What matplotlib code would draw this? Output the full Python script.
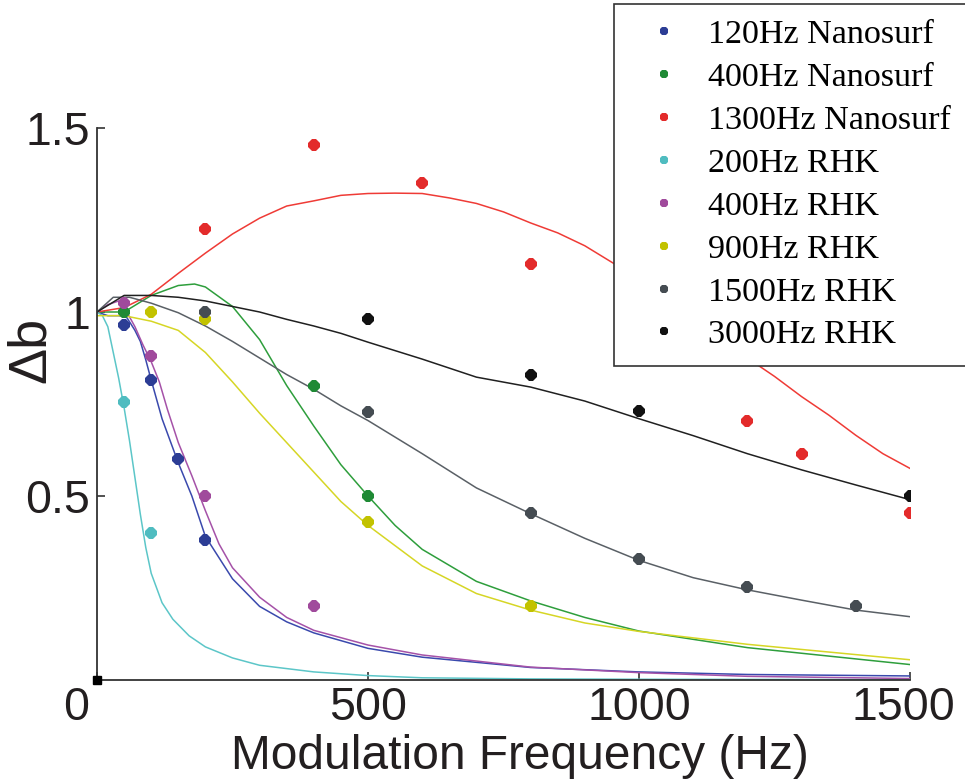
import matplotlib
matplotlib.use('Agg')
import matplotlib.pyplot as plt
import matplotlib.transforms as mtransforms

# measured points: modulation frequency (Hz) and delta b
f_120n = [50, 100, 150, 200]
b_120n = [0.965, 0.815, 0.60, 0.38]
f_400n = [50, 400, 500]
b_400n = [1.0, 0.80, 0.50]
f_1300n = [200, 400, 600, 800, 1200, 1300, 1500]
b_1300n = [1.225, 1.455, 1.35, 1.13, 0.705, 0.615, 0.455]
f_200r = [50, 100]
b_200r = [0.755, 0.40]
f_400r = [50, 100, 200, 400]
b_400r = [1.025, 0.88, 0.50, 0.20]
f_900r = [100, 200, 500, 800]
b_900r = [1.0, 0.98, 0.43, 0.20]
f_1500r = [200, 500, 800, 1000, 1200, 1400]
b_1500r = [1.0, 0.727, 0.455, 0.328, 0.253, 0.202]
f_3000r = [500, 800, 1000, 1500]
b_3000r = [0.98, 0.83, 0.73, 0.50]

# fitted curves
fit_f_120n = [0, 20, 40, 55, 70, 80, 90, 100, 120, 150, 175, 200, 250, 300, 350, 400, 500, 600, 800, 1000, 1200, 1500]
fit_b_120n = [1.0, 0.99, 0.99, 0.985, 0.95, 0.92, 0.87, 0.815, 0.71, 0.59, 0.50, 0.39, 0.275, 0.20, 0.158, 0.128,
              0.086, 0.062, 0.034, 0.022, 0.015, 0.011]
fit_f_400n = [0, 50, 100, 150, 180, 200, 250, 300, 350, 400, 450, 500, 550, 600, 700, 800, 900, 1000, 1200, 1500]
fit_b_400n = [1.0, 1.0, 1.045, 1.072, 1.076, 1.068, 1.015, 0.925, 0.80, 0.69, 0.585, 0.50, 0.42, 0.355, 0.268,
              0.215, 0.17, 0.133, 0.088, 0.042]
fit_f_1300n = [0, 50, 100, 150, 200, 250, 300, 350, 400, 450, 500, 550, 600, 650, 700, 750, 800, 850, 900, 950,
               1000, 1100, 1200, 1250, 1300, 1350, 1400, 1450, 1500]
fit_b_1300n = [1.0, 1.012, 1.048, 1.105, 1.16, 1.212, 1.255, 1.288, 1.302, 1.317, 1.322, 1.323, 1.322, 1.31,
               1.295, 1.272, 1.242, 1.215, 1.18, 1.135, 1.09, 0.98, 0.875, 0.825, 0.77, 0.72, 0.665, 0.615, 0.575]
fit_f_200r = [0, 10, 20, 30, 40, 50, 60, 70, 80, 90, 100, 120, 140, 170, 200, 250, 300, 400, 500, 600, 800, 1000,
              1500]
fit_b_200r = [1.0, 0.99, 0.96, 0.89, 0.82, 0.74, 0.65, 0.55, 0.45, 0.36, 0.29, 0.21, 0.165, 0.12, 0.09, 0.06,
              0.04, 0.022, 0.012, 0.006, 0.003, 0.002, 0.001]
fit_f_400r = [0, 20, 40, 55, 70, 85, 100, 115, 130, 150, 175, 200, 225, 250, 300, 350, 400, 500, 600, 800, 1000,
              1200, 1500]
fit_b_400r = [1.0, 1.02, 1.03, 1.0, 0.96, 0.91, 0.865, 0.81, 0.735, 0.645, 0.555, 0.46, 0.37, 0.305, 0.225, 0.17,
              0.135, 0.095, 0.068, 0.035, 0.02, 0.01, 0.004]
fit_f_900r = [0, 50, 100, 150, 200, 250, 300, 350, 400, 450, 500, 550, 600, 700, 800, 900, 1000, 1200, 1500]
fit_b_900r = [0.99, 0.99, 0.975, 0.95, 0.89, 0.81, 0.725, 0.645, 0.565, 0.485, 0.42, 0.365, 0.31, 0.235, 0.19,
              0.155, 0.132, 0.097, 0.055]
fit_f_1500r = [0, 30, 60, 100, 150, 200, 250, 300, 350, 400, 450, 500, 550, 600, 700, 800, 900, 1000, 1100, 1200,
               1300, 1400, 1500]
fit_b_1500r = [1.0, 1.04, 1.04, 1.024, 0.998, 0.962, 0.92, 0.875, 0.83, 0.79, 0.745, 0.705, 0.66, 0.615, 0.522,
               0.452, 0.385, 0.325, 0.278, 0.245, 0.217, 0.19, 0.172]
fit_f_3000r = [0, 50, 100, 150, 200, 250, 300, 350, 400, 450, 500, 600, 700, 800, 900, 1000, 1100, 1200, 1300,
               1400, 1500]
fit_b_3000r = [1.0, 1.045, 1.045, 1.04, 1.03, 1.015, 1.0, 0.98, 0.962, 0.942, 0.918, 0.872, 0.823, 0.796, 0.758,
               0.71, 0.664, 0.615, 0.571, 0.53, 0.49]

labels = ['120Hz Nanosurf', '400Hz Nanosurf', '1300Hz Nanosurf', '200Hz RHK', '400Hz RHK', '900Hz RHK',
          '1500Hz RHK', '3000Hz RHK']
marker_colors = ['#2c3d95', '#1f8a35', '#e32b2b', '#4fbcc0', '#a04a9c', '#c2c200', '#454c52', '#111111']
line_colors = ['#3a49ad', '#2e9e3c', '#ef3b36', '#5cc6c8', '#a552a8', '#d6d625', '#5a6066', '#202020']

points = [(f_120n, b_120n), (f_400n, b_400n), (f_1300n, b_1300n), (f_200r, b_200r), (f_400r, b_400r),
          (f_900r, b_900r), (f_1500r, b_1500r), (f_3000r, b_3000r)]
fits = [(fit_f_120n, fit_b_120n), (fit_f_400n, fit_b_400n), (fit_f_1300n, fit_b_1300n), (fit_f_200r, fit_b_200r),
        (fit_f_400r, fit_b_400r), (fit_f_900r, fit_b_900r), (fit_f_1500r, fit_b_1500r), (fit_f_3000r, fit_b_3000r)]

fig = plt.figure(figsize=(9.65, 7.82), dpi=100)
ax = fig.add_axes([97 / 965, 1 - 680 / 782, 813 / 965, 552 / 782])

# fit lines first, points on top
for (xf, yf), c in zip(fits, line_colors):
    ax.plot(xf, yf, color=c, lw=1.1, zorder=2)
for (xp, yp), c, lab in zip(points, marker_colors, labels):
    ax.plot(xp, yp, linestyle='none', marker='8', markersize=9, color=c, markeredgewidth=0, label=lab,
            zorder=3)
ax.plot([0], [0], marker='s', markersize=6, color='black', linestyle='none', clip_on=False, zorder=4)

ax.set_xlim(0, 1500)
ax.set_ylim(0, 1.5)
ax.spines['top'].set_visible(False)
ax.spines['right'].set_visible(False)
for s in ['left', 'bottom']:
    ax.spines[s].set_color('#333333')
    ax.spines[s].set_linewidth(1.3)

ax.set_xticks([0, 500, 1000, 1500])
ax.set_xticklabels(['0', '500', '1000', '1500'])
ax.set_yticks([0.5, 1, 1.5])
ax.set_yticklabels(['0.5', '1', '1.5'])
ax.tick_params(direction='in', length=6, width=1.2, color='#333333', labelsize=33.5,
               labelcolor='#231f20')
ax.tick_params(axis='x', pad=4.5)
ax.tick_params(axis='y', pad=5)
for t in ax.get_xticklabels() + ax.get_yticklabels():
    t.set_fontfamily('Liberation Sans')

# the zero label sits a bit left of the corner
zero = ax.get_xticklabels()[0]
zero.set_transform(zero.get_transform() + mtransforms.ScaledTranslation(-21 / 100, 0, fig.dpi_scale_trans))
last = ax.get_xticklabels()[-1]
last.set_transform(last.get_transform() + mtransforms.ScaledTranslation(-7 / 100, 0, fig.dpi_scale_trans))

ax.set_xlabel('Modulation Frequency (Hz)', fontsize=34.5, family='Liberation Sans', color='#231f20')
ax.xaxis.set_label_coords(0.52, -0.098)
ax.set_ylabel('Δb', fontsize=39, family='Liberation Sans', color='#231f20')
ax.yaxis.set_label_coords(-0.05, 0.598)

# legend box runs off the right edge of the figure
leg = ax.legend(loc='upper left', bbox_to_anchor=(614 / 965, 1 - 4 / 782), bbox_transform=fig.transFigure,
                prop={'family': 'Liberation Serif', 'size': 24.6}, markerscale=0.75, frameon=True,
                fancybox=False, framealpha=1, borderpad=0.45, handlelength=2.0, handletextpad=0.3,
                labelspacing=0.35, borderaxespad=0)
leg.get_frame().set_edgecolor('#333333')
leg.get_frame().set_linewidth(1.2)
leg.set_zorder(5)

fig.savefig('out.png', dpi=100)
